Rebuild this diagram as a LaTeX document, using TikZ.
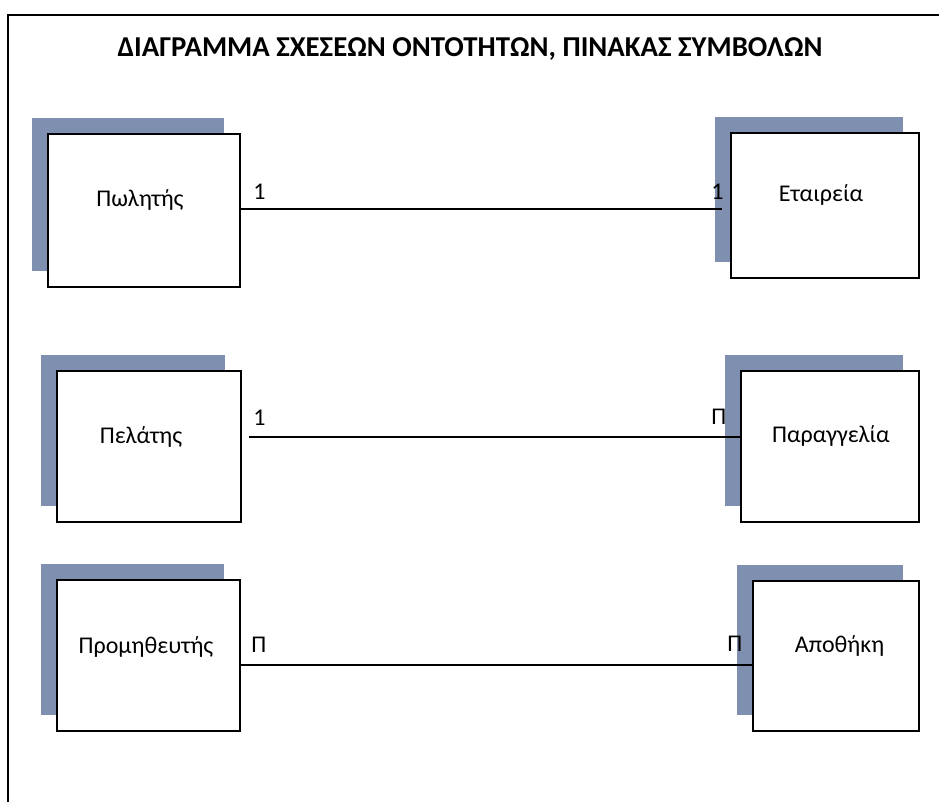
\documentclass[tikz,border=0pt]{standalone}
\usepackage{fontspec}
\setmainfont{Carlito}
\usetikzlibrary{shadows}
\definecolor{shadowblue}{HTML}{7F8FAF}

\begin{document}
\begin{tikzpicture}[x=0.75pt, y=-0.75pt,
    entity/.style={draw, line width=1.5pt, fill=white, rectangle, inner sep=0pt,
      general shadow={fill=shadowblue, shadow xshift=-12pt, shadow yshift=12pt}},
    link/.style={line width=1.5pt},
    card/.style={anchor=base west, inner sep=0pt, font=\fontsize{18}{21}\selectfont},
    ename/.style={anchor=base, inner sep=0pt, font=\fontsize{18}{21}\selectfont}]
  \useasboundingbox (0,0) rectangle (939,802);

  \draw[line width=1.5pt] (8,803) -- (8,15) -- (940,15);
  \node[anchor=base, inner sep=0pt, font=\bfseries\fontsize{21.6}{26}\selectfont] (title) at (470,57)
    {ΔΙΑΓΡΑΜΜΑ ΣΧΕΣΕΩΝ ΟΝΤΟΤΗΤΩΝ, ΠΙΝΑΚΑΣ ΣΥΜΒΟΛΩΝ};

  \foreach \id/\cx/\cy/\w/\h in {pwl/144/210.5/192/153, eta/825/205.5/188/145,
                                 pel/149/446.5/184/151, par/830/446.5/178/151,
                                 pro/148.5/655.5/183/151, apo/836/656/166/150}{
    \pgfmathsetmacro{\wpt}{\w*0.75}
    \pgfmathsetmacro{\hpt}{\h*0.75}
    \node[entity, minimum width=\wpt pt, minimum height=\hpt pt] (\id) at (\cx,\cy) {};
  }

  \node[ename] (pwl-t) at (140,207) {Πωλητής};
  \node[ename] (eta-t) at (821,202) {Εταιρεία};
  \node[ename] (pel-t) at (141,443) {Πελάτης};
  \node[ename] (par-t) at (831,442) {Παραγγελία};
  \node[ename] (pro-t) at (146,653) {Προμηθευτής};
  \node[ename] (apo-t) at (839.5,652) {Αποθήκη};

  \draw[link] ([yshift=1.1pt]pwl.east) -- ([xshift=-6pt,yshift=1.1pt]pwl.east -| eta.west);
  \draw[link] ([xshift=5.25pt,yshift=7.1pt]pel.east) -- ([yshift=7.1pt]pel.east -| par.west);
  \draw[link] ([yshift=-7.1pt]pro.east) -- ([yshift=-7.1pt]pro.east -| apo.west);

  \node[card] (c1a) at (253,200) {1};
  \node[card] (c1b) at (711,200) {1};
  \node[card] (c2a) at (253,425) {1};
  \node[card] (c2b) at (711,424) {Π};
  \node[card] (c3a) at (251,652) {Π};
  \node[card] (c3b) at (727,651) {Π};
\end{tikzpicture}
\end{document}
